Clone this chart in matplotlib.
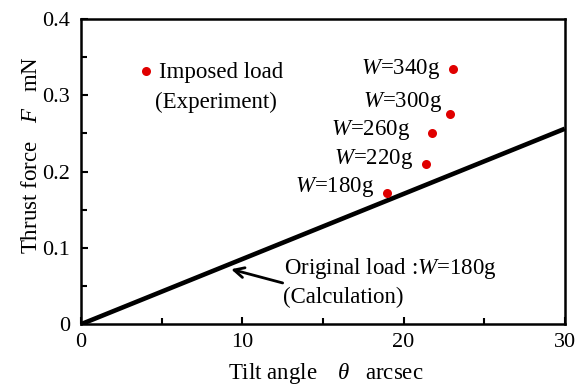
import matplotlib
matplotlib.use("Agg")
import matplotlib.pyplot as plt
from matplotlib.ticker import MultipleLocator

plt.rcParams["font.family"] = "Liberation Serif"
plt.rcParams["mathtext.fontset"] = "custom"
plt.rcParams["mathtext.rm"] = "Liberation Serif"
plt.rcParams["mathtext.it"] = "Liberation Serif:italic"

# measured points (imposed load, experiment)
weights = ["340", "300", "260", "220", "180"]
tilt = [23.06, 22.9, 21.76, 21.39, 18.97]
force = [0.334, 0.275, 0.250, 0.210, 0.172]
label_x = [22.3, 22.4, 20.4, 20.6, 18.2]
label_y = [0.334, 0.291, 0.254, 0.216, 0.180]

# calculation line (original load W=180g)
calc_x = [0, 30]
calc_y = [0, 0.256]

fs = 16.5

fig = plt.figure(figsize=(5.84, 3.85), dpi=100)
ax = fig.add_axes([0.139, 0.158, 0.828, 0.793])

ax.plot(calc_x, calc_y, color="black", lw=3.3, solid_capstyle="butt")
ax.plot(tilt, force, "o", color="#e00000", ms=6.5, mec="none")

for w, lx, ly in zip(weights, label_x, label_y):
    ax.text(lx, ly, r"$W$=" + w + "g", fontsize=fs, ha="right", va="center")

# legend-like entry
ax.plot([4.0], [0.332], "o", color="#e00000", ms=6.5, mec="none")
ax.text(4.85, 0.330, "Imposed load", fontsize=fs, va="center")
ax.text(4.6, 0.291, "(Experiment)", fontsize=fs, va="center")

ax.text(12.6, 0.073, r"Original load :$W$=180g", fontsize=fs, va="center")
ax.text(12.5, 0.035, "(Calculation)", fontsize=fs, va="center")
ax.annotate("", xy=(9.3, 0.072), xytext=(12.5, 0.054),
            arrowprops=dict(arrowstyle="->", lw=2, color="black",
                            mutation_scale=18, shrinkA=0, shrinkB=0))

ax.set_xlim(0, 30)
ax.set_ylim(0, 0.4)
ax.xaxis.set_major_locator(MultipleLocator(10))
ax.xaxis.set_minor_locator(MultipleLocator(5))
ax.yaxis.set_minor_locator(MultipleLocator(0.05))
ax.set_yticks([0, 0.1, 0.2, 0.3, 0.4])
ax.set_yticklabels(["0", "0.1", "0.2", "0.3", "0.4"])
ax.tick_params(which="both", direction="in", width=1.5, labelsize=16)
ax.tick_params(which="major", length=5)
ax.tick_params(which="minor", length=4)
ax.tick_params(axis="x", which="major", pad=6)
ax.tick_params(axis="y", which="major", pad=8)
for s in ax.spines.values():
    s.set_linewidth(1.8)

ax.set_xlabel(r"Tilt angle$\quad\;\theta\quad$arcsec", fontsize=16.5)
ax.set_ylabel(r"Thrust force$\quad\, F\quad$mN", fontsize=16.5)
ax.xaxis.set_label_coords(0.506, -0.12)
ax.yaxis.set_label_coords(-0.08, 0.555)

fig.savefig("out.png", dpi=100)
